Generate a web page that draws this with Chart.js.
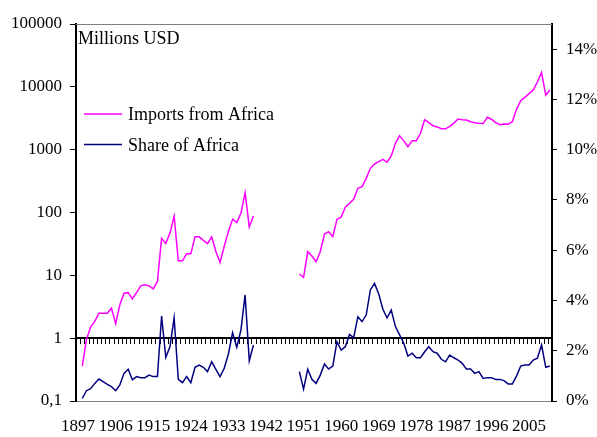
<!DOCTYPE html>
<html>
<head>
<meta charset="utf-8">
<script src="https://cdn.jsdelivr.net/npm/chart.js@4/dist/chart.umd.min.js"></script>
<style>
html,body{margin:0;padding:0;background:#fff;}
canvas{display:block;}
</style>
</head>
<body>
<canvas id="c" width="597" height="437"></canvas>
<script>
// ---- data ----
const years = [];
for (let y = 1897; y <= 2010; y++) years.push(String(y));

const importsPre = [null,0.36,0.95,1.5,1.85,2.5,2.5,2.5,3.0,1.7,3.4,5.2,5.3,4.2,5.3,6.8,7.1,6.8,6.1,8.0,
  38.8,32,47,88,17,17,22,22,41,41,36,32,41,24,16,29,50,78,69,97,206,59,88]; // 1897-1939
const sharePre = [null,0.1,0.41,0.49,0.70,0.875,0.77,0.66,0.57,0.41,0.64,1.10,1.26,0.84,0.97,0.93,0.93,1.03,0.97,0.97,
  3.38,1.74,2.16,3.31,0.86,0.73,0.97,0.73,1.34,1.43,1.34,1.17,1.56,1.26,0.97,1.30,1.87,2.72,2.14,2.82,4.22,1.60,2.23]; // 1897-1939
const warGap = [null,null,null,null,null,null,null,null,null,null]; // 1940-1949
const importsPost = [10.5,9.3,23.8,20.3,16.5,23.8,45.5,49.5,41.2,78,84,121,140,162,243,258,350,505,592,644,
  702,630,793,1262,1660,1380,1116,1390,1390,1824,3000,2700,2400,2300,2150,2150,2350,2650,3077,3000,
  2966,2790,2690,2625,2600,3275,3050,2690,2500,2560,2530,2790,4390,6020,6810,7780,8910,11950,17000,7330,8910]; // 1950-2010
const sharePost = [1.17,0.47,1.26,0.86,0.70,1.03,1.47,1.27,1.39,2.36,2.03,2.16,2.65,2.52,3.35,3.16,3.42,4.42,4.68,4.26,
  3.65,3.31,3.62,2.96,2.63,2.30,1.79,1.90,1.72,1.72,1.96,2.16,1.96,1.90,1.66,1.56,1.83,1.72,1.63,1.50,
  1.27,1.27,1.10,1.17,0.90,0.93,0.93,0.86,0.86,0.81,0.68,0.68,0.99,1.39,1.43,1.43,1.63,1.70,2.23,1.34,1.39]; // 1950-2010

const importsFromAfrica = importsPre.concat(warGap, importsPost);
const shareOfAfrica = sharePre.concat(warGap, sharePost);

const leftTickValues = [0.1,1,10,100,1000,10000,100000];
const leftTickLabels = ['0,1','1','10','100','1000','10000','100000'];
const rightTickValues = [0,2,4,6,8,10,12,14];
const labelEvery = 9;
const axisCrossValue = 1;
const seriesNames = ['Imports from Africa','Share of Africa'];
const unitTitle = 'Millions USD';

const FONT = '"Liberation Serif", "Times New Roman", serif';
const PINK = '#FF00FF';
const NAVY = '#000080';

const decor = {
  id: 'decor',
  beforeDatasetsDraw(chart) {
    const {ctx, chartArea: a, scales: {x, y}} = chart;
    ctx.save();
    ctx.strokeStyle = '#808080';
    ctx.lineWidth = 1;
    ctx.beginPath();
    ctx.moveTo(a.left, a.top + 0.5);
    ctx.lineTo(a.right, a.top + 0.5);
    ctx.stroke();
    const yy = Math.round(y.getPixelForValue(axisCrossValue));
    const step = x.getPixelForValue(1) - x.getPixelForValue(0);
    ctx.strokeStyle = '#000';
    ctx.lineWidth = 1;
    for (let i = 0; i <= years.length; i++) {
      const px = Math.round(x.getPixelForValue(i) - step / 2) + 0.5;
      ctx.beginPath();
      ctx.moveTo(px, yy);
      ctx.lineTo(px, yy + 6);
      ctx.stroke();
    }
    ctx.lineWidth = 2;
    ctx.beginPath();
    ctx.moveTo(a.left, yy);
    ctx.lineTo(a.right, yy);
    ctx.stroke();
    ctx.restore();
  },
  afterDraw(chart) {
    const {ctx, chartArea: a} = chart;
    ctx.save();
    ctx.font = '18px ' + FONT;
    ctx.fillStyle = '#000';
    ctx.textBaseline = 'alphabetic';
    ctx.textAlign = 'left';
    ctx.fillText(unitTitle, a.left + 2, a.top + 20);
    const items = chart.data.datasets;
    items.forEach((ds, i) => {
      const ly = a.top + 90 + i * 30.5;
      ctx.strokeStyle = ds.borderColor;
      ctx.lineWidth = 1.5;
      ctx.beginPath();
      ctx.moveTo(a.left + 8, ly);
      ctx.lineTo(a.left + 46, ly);
      ctx.stroke();
      ctx.fillStyle = '#000';
      ctx.fillText(ds.label, a.left + 52, ly + 6);
    });
    ctx.restore();
  }
};

new Chart(document.getElementById('c'), {
  type: 'line',
  data: {
    labels: years,
    datasets: [
      {label: seriesNames[0], data: importsFromAfrica, yAxisID: 'y', borderColor: PINK, backgroundColor: PINK,
       borderWidth: 1.5, pointRadius: 0, tension: 0, spanGaps: false},
      {label: seriesNames[1], data: shareOfAfrica, yAxisID: 'y2', borderColor: NAVY, backgroundColor: NAVY,
       borderWidth: 1.5, pointRadius: 0, tension: 0, spanGaps: false}
    ]
  },
  options: {
    responsive: false,
    animation: false,
    devicePixelRatio: 1,
    layout: {padding: {top: 24, left: 0, right: 0, bottom: 0}},
    plugins: {legend: {display: false}, tooltip: {enabled: false}},
    scales: {
      x: {
        type: 'category',
        offset: true,
        grid: {display: false, drawTicks: false},
        border: {display: true, color: '#808080', width: 1},
        ticks: {
          autoSkip: false, maxRotation: 0, minRotation: 0, padding: 15,
          color: '#000', font: {family: FONT, size: 17},
          callback: (v, i) => ((Number(years[i]) - Number(years[0])) % labelEvery === 0 ? years[i] : null)
        },
        afterFit: s => { s.height = 36; }
      },
      y: {
        type: 'logarithmic',
        position: 'left',
        min: leftTickValues[0],
        max: leftTickValues[leftTickValues.length - 1],
        afterBuildTicks: s => { s.ticks = leftTickValues.map(v => ({value: v})); },
        grid: {drawOnChartArea: false, drawTicks: true, tickLength: 6, tickColor: '#000', tickWidth: 1},
        border: {display: true, color: '#000', width: 2},
        ticks: {
          padding: 8, color: '#000', font: {family: FONT, size: 17},
          callback: v => { const k = leftTickValues.indexOf(v); return k >= 0 ? leftTickLabels[k] : null; }
        },
        afterFit: s => { s.width = 76; }
      },
      y2: {
        type: 'linear',
        position: 'right',
        min: 0,
        max: 15,
        afterBuildTicks: s => { s.ticks = rightTickValues.map(v => ({value: v})); },
        grid: {drawOnChartArea: false, drawTicks: true, tickLength: 5, tickColor: '#000', tickWidth: 1},
        border: {display: true, color: '#000', width: 2},
        ticks: {
          padding: 9, color: '#000', font: {family: FONT, size: 17},
          callback: v => v + '%'
        },
        afterFit: s => { s.width = 45; }
      }
    }
  },
  plugins: [decor]
});
</script>
</body>
</html>
